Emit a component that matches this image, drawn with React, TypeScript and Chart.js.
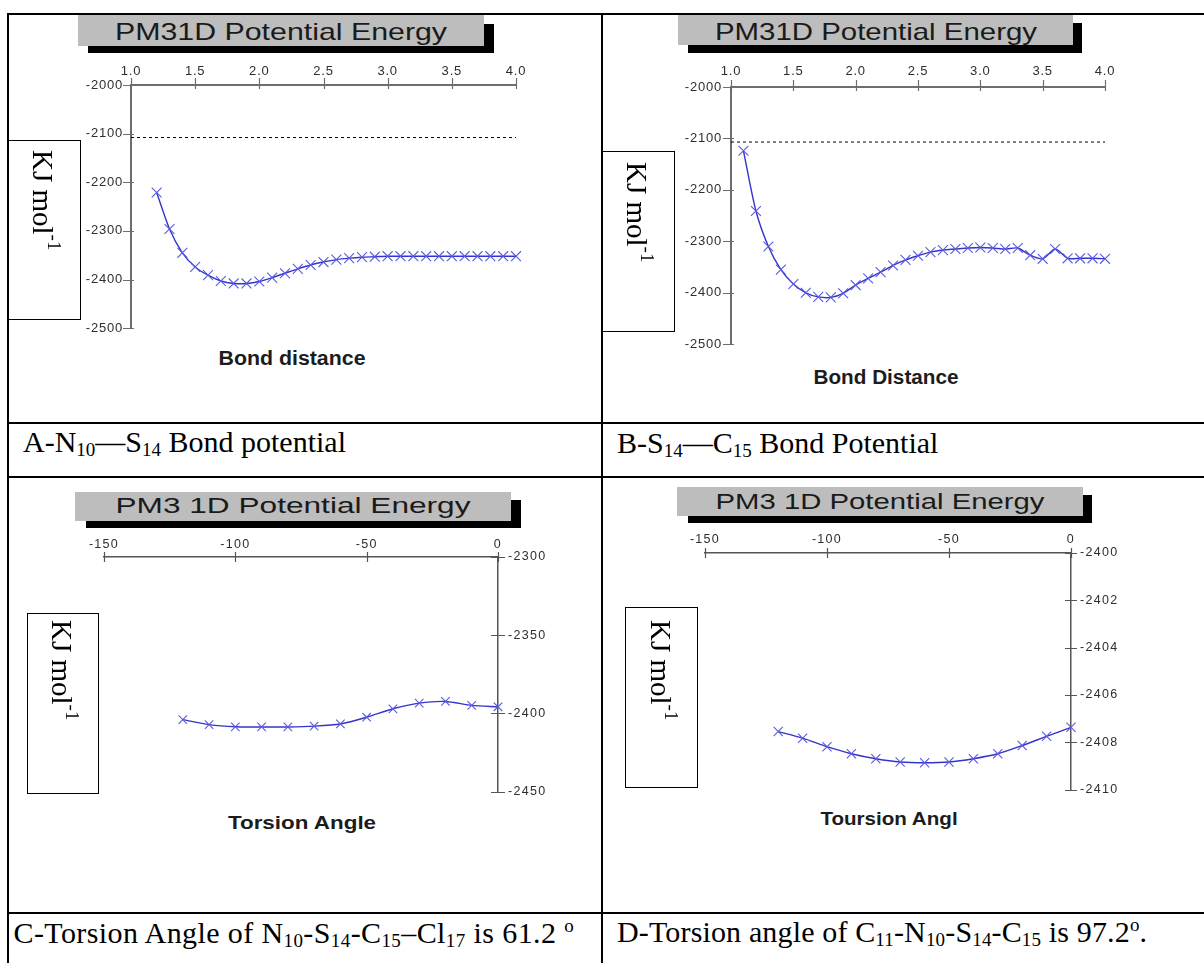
import React, { useEffect, useRef } from 'react';
import { Chart, registerables } from 'chart.js';

Chart.register(...registerables);

const SANS = '"Liberation Sans", Arial, Helvetica, sans-serif';
const SERIF = '"Liberation Serif", "Times New Roman", Times, serif';

// ---------- Panel A : N10—S14 bond ----------
const A_X = [1.2, 1.3, 1.4, 1.5, 1.6, 1.7, 1.8, 1.9, 2.0, 2.1, 2.2, 2.3, 2.4, 2.5, 2.6, 2.7, 2.8, 2.9, 3.0, 3.1, 3.2, 3.3, 3.4, 3.5, 3.6, 3.7, 3.8, 3.9, 4.0];
const A_Y = [-2221, -2296, -2345, -2374, -2391, -2403, -2408, -2408, -2404, -2396, -2387, -2378, -2370, -2364, -2359, -2356, -2354, -2353, -2352, -2352, -2352, -2352, -2352, -2352, -2352, -2352, -2352, -2352, -2352];
const A_REF_Y = -2108;

// ---------- Panel B : S14—C15 bond ----------
const B_X = [1.1, 1.2, 1.3, 1.4, 1.5, 1.6, 1.7, 1.8, 1.9, 2.0, 2.1, 2.2, 2.3, 2.4, 2.5, 2.6, 2.7, 2.8, 2.9, 3.0, 3.1, 3.2, 3.3, 3.4, 3.5, 3.6, 3.7, 3.8, 3.9, 4.0];
const B_Y = [-2124, -2241, -2310, -2355, -2383, -2400, -2408, -2409, -2401, -2385, -2372, -2360, -2347, -2336, -2328, -2321, -2317, -2315, -2313, -2312, -2313, -2315, -2313, -2327, -2334, -2315, -2333, -2333, -2333, -2334];
const B_REF_Y = -2107;

const BOND_X_TICKS = [1.0, 1.5, 2.0, 2.5, 3.0, 3.5, 4.0];
const BOND_X_LABELS = ['1.0', '1.5', '2.0', '2.5', '3.0', '3.5', '4.0'];
const BOND_Y_TICKS = [-2500, -2400, -2300, -2200, -2100, -2000];
const BOND_Y_LABELS = ['-2500', '-2400', '-2300', '-2200', '-2100', '-2000'];

// ---------- Panel C : torsion N10-S14-C15-Cl17 ----------
const C_X = [-120, -110, -100, -90, -80, -70, -60, -50, -40, -30, -20, -10, 0];
const C_Y = [-2404, -2407.2, -2408.6, -2408.7, -2408.7, -2408.2, -2406.8, -2402.5, -2397.1, -2393.5, -2392.4, -2394.9, -2395.8];
const C_Y_TICKS = [-2450, -2400, -2350, -2300];
const C_Y_LABELS = ['-2450', '-2400', '-2350', '-2300'];

// ---------- Panel D : torsion C11-N10-S14-C15 ----------
const D_X = [-120, -110, -100, -90, -80, -70, -60, -50, -40, -30, -20, -10, 0];
const D_Y = [-2407.55, -2407.83, -2408.19, -2408.49, -2408.7, -2408.84, -2408.87, -2408.84, -2408.7, -2408.49, -2408.14, -2407.75, -2407.37];
const D_Y_TICKS = [-2410, -2408, -2406, -2404, -2402, -2400];
const D_Y_LABELS = ['-2410', '-2408', '-2406', '-2404', '-2402', '-2400'];

const TORSION_X_TICKS = [-150, -100, -50, 0];
const TORSION_X_LABELS = ['-150', '-100', '-50', '0'];

const LINE_COLOR = '#3434c8';
const MARK_COLOR = '#5a5ae2';

const WY = 64;
const HX = 34;

const axisDeco = {
  id: 'axisDeco',
  beforeDraw(chart: any, _a: any, opts: any) {
    (chart.ctx as any).letterSpacing = opts.letterSpacing || '0px';
  },
  afterDraw(chart: any, _a: any, opts: any) {
    const ctx = chart.ctx;
    (ctx as any).letterSpacing = '0px';
    const area = chart.chartArea;
    const xs = chart.scales.x;
    const ys = chart.scales.y;
    ctx.save();
    ctx.strokeStyle = opts.color;
    ctx.lineWidth = opts.width;
    ctx.beginPath();
    xs.ticks.forEach((t: any) => {
      const p = Math.round(xs.getPixelForValue(t.value)) + 0.5;
      ctx.moveTo(p, area.top - opts.xOut);
      ctx.lineTo(p, area.top + opts.xIn);
    });
    const x0 = opts.yRight ? area.right : area.left;
    const dir = opts.yRight ? 1 : -1;
    ys.ticks.forEach((t: any) => {
      const p = Math.round(ys.getPixelForValue(t.value)) + 0.5;
      ctx.moveTo(x0 + dir * opts.yOut, p);
      ctx.lineTo(x0 - dir * opts.yIn, p);
    });
    ctx.stroke();
    ctx.restore();
  },
};

type Spec = {
  l: number; t: number; r: number; b: number;
  yRight: boolean;
  xs: number[]; ys: number[]; refY: number | null;
  xMin: number; xMax: number; yMin: number; yMax: number;
  xTicks: number[]; xLabels: string[]; yTicks: number[]; yLabels: string[];
  pointRadius: number;
  axisColor: string; axisWidth: number;
  fontSize: number; letterSpacing: string;
  xPad: number; yPad: number;
  xOut: number; xIn: number; yOut: number; yIn: number;
};

function PlotChart({ s }: { s: Spec }) {
  const ref = useRef<HTMLCanvasElement>(null);
  const PADT = 4, PADB = 14;
  const PADL = s.yRight ? 24 : 4;
  const PADR = s.yRight ? 4 : 22;
  const cw = s.r - s.l + WY + PADL + PADR;
  const ch = s.b - s.t + HX + PADT + PADB;
  const cl = s.yRight ? s.l - PADL : s.l - WY - PADL;
  const ct = s.t - HX - PADT;

  useEffect(() => {
    const datasets: any[] = [];
    if (s.refY !== null) {
      datasets.push({
        data: [{ x: s.xMin, y: s.refY }, { x: s.xMax, y: s.refY }],
        borderColor: '#000', borderWidth: 1, borderDash: [3, 3], pointRadius: 0, clip: false, fill: false,
      });
    }
    datasets.push({
      data: s.xs.map((x, i) => ({ x, y: s.ys[i] })),
      borderColor: LINE_COLOR, borderWidth: 1.4, tension: 0.25,
      pointStyle: 'crossRot', pointRadius: s.pointRadius, pointBorderWidth: 1.1,
      pointBorderColor: MARK_COLOR, pointBackgroundColor: MARK_COLOR,
      clip: false, fill: false,
    });
    const tickFont = { family: SANS, size: s.fontSize };
    const chart = new Chart(ref.current as HTMLCanvasElement, {
      type: 'line',
      data: { datasets },
      options: {
        animation: false,
        responsive: false,
        maintainAspectRatio: false,
        events: [],
        layout: { padding: { left: PADL, right: PADR, top: PADT, bottom: PADB } },
        plugins: {
          legend: { display: false },
          tooltip: { enabled: false },
          axisDeco: {
            color: s.axisColor, width: 1.2, yRight: s.yRight,
            xOut: s.xOut, xIn: s.xIn, yOut: s.yOut, yIn: s.yIn,
            letterSpacing: s.letterSpacing,
          },
        } as any,
        scales: {
          x: {
            type: 'linear', position: 'top', min: s.xMin, max: s.xMax,
            grid: { display: false, drawTicks: false },
            border: { display: true, color: s.axisColor, width: s.axisWidth },
            ticks: {
              padding: s.xPad, font: tickFont, color: '#2e2e2e', maxRotation: 0, autoSkip: false,
              callback: (_v: any, i: number) => s.xLabels[i],
            },
            afterBuildTicks: (sc: any) => { sc.ticks = s.xTicks.map((v) => ({ value: v })); },
            afterFit: (sc: any) => { sc.height = HX; },
          },
          y: {
            type: 'linear', position: s.yRight ? 'right' : 'left', min: s.yMin, max: s.yMax,
            grid: { display: false, drawTicks: false },
            border: { display: true, color: s.axisColor, width: s.axisWidth },
            ticks: {
              padding: s.yPad, font: tickFont, color: '#2e2e2e', autoSkip: false,
              callback: (_v: any, i: number) => s.yLabels[i],
            },
            afterBuildTicks: (sc: any) => { sc.ticks = s.yTicks.map((v) => ({ value: v })); },
            afterFit: (sc: any) => { sc.width = WY; },
          },
        } as any,
      },
      plugins: [axisDeco as any],
    });
    return () => chart.destroy();
  }, []);

  return (
    <canvas
      ref={ref}
      width={cw}
      height={ch}
      style={{ position: 'absolute', left: cl, top: ct, width: cw, height: ch }}
    />
  );
}

let mctx: CanvasRenderingContext2D | null = null;
function measure(text: string, font: string) {
  if (!mctx) mctx = document.createElement('canvas').getContext('2d');
  (mctx as CanvasRenderingContext2D).font = font;
  return (mctx as CanvasRenderingContext2D).measureText(text).width;
}

function StretchText({ text, cx, baseline, size, width, bold, color }: any) {
  const font = `${bold ? 'bold ' : ''}${size}px ${SANS}`;
  const k = width / measure(text, font);
  return (
    <div
      style={{
        position: 'absolute', left: cx, top: baseline - 0.8465 * size,
        font, lineHeight: `${size}px`, whiteSpace: 'nowrap', color: color || '#1c1c1c',
        transform: `translateX(-50%) scaleX(${k})`,
      }}
    >
      {text}
    </div>
  );
}

function Rect({ l, t, r, b, bg, border }: any) {
  return (
    <div
      style={{
        position: 'absolute', left: l, top: t, width: r - l, height: b - t,
        background: bg || 'transparent', border: border || 'none', boxSizing: 'border-box',
      }}
    />
  );
}

function TitleBox({ g, sh, text, cx, baseline, size, width }: any) {
  return (
    <>
      <Rect {...sh} bg="#000" />
      <Rect {...g} bg="#bdbdbd" />
      <StretchText text={text} cx={cx} baseline={baseline} size={size} width={width} color="#1a1a1a" />
    </>
  );
}

function KJBox({ box, cx, top }: any) {
  return (
    <>
      <Rect {...box} border="1.5px solid #000" />
      <div
        style={{
          position: 'absolute', left: cx - 14.5, top, writingMode: 'vertical-rl',
          fontFamily: SERIF, fontSize: 29, lineHeight: '29px', whiteSpace: 'nowrap', color: '#000',
        }}
      >
        KJ mol<span style={{ fontSize: 19, verticalAlign: 'super', lineHeight: 0 }}>-1</span>
      </div>
    </>
  );
}

const Sub = ({ children }: any) => (
  <span style={{ fontSize: 19, verticalAlign: '-4px', lineHeight: 0 }}>{children}</span>
);
const Sup = ({ children }: any) => (
  <span style={{ fontSize: 19, verticalAlign: '11px', lineHeight: 0 }}>{children}</span>
);

function Caption({ left, baseline, spacing, children }: any) {
  return (
    <div
      style={{
        position: 'absolute', left, top: baseline - 0.8375 * 30, fontFamily: SERIF,
        fontSize: 30, lineHeight: '30px', whiteSpace: 'nowrap', color: '#000',
        letterSpacing: spacing || 'normal',
      }}
    >
      {children}
    </div>
  );
}

const specA: Spec = {
  l: 131, t: 85, r: 516, b: 330, yRight: false,
  xs: A_X, ys: A_Y, refY: A_REF_Y,
  xMin: 1, xMax: 4, yMin: -2500, yMax: -2000,
  xTicks: BOND_X_TICKS, xLabels: BOND_X_LABELS, yTicks: BOND_Y_TICKS, yLabels: BOND_Y_LABELS,
  pointRadius: 7, axisColor: '#6e6e6e', axisWidth: 2,
  fontSize: 13, letterSpacing: '0.8px', xPad: 6, yPad: 8,
  xOut: 7, xIn: 4, yOut: 8, yIn: 3,
};
const specB: Spec = {
  l: 731, t: 87, r: 1105, b: 347, yRight: false,
  xs: B_X, ys: B_Y, refY: B_REF_Y,
  xMin: 1, xMax: 4, yMin: -2500, yMax: -2000,
  xTicks: BOND_X_TICKS, xLabels: BOND_X_LABELS, yTicks: BOND_Y_TICKS, yLabels: BOND_Y_LABELS,
  pointRadius: 7, axisColor: '#6e6e6e', axisWidth: 2,
  fontSize: 13, letterSpacing: '0.8px', xPad: 7.5, yPad: 9,
  xOut: 7, xIn: 4, yOut: 8, yIn: 3,
};
const specC: Spec = {
  l: 104, t: 557, r: 498, b: 795, yRight: true,
  xs: C_X, ys: C_Y, refY: null,
  xMin: -150, xMax: 0, yMin: -2450, yMax: -2300,
  xTicks: TORSION_X_TICKS, xLabels: TORSION_X_LABELS, yTicks: C_Y_TICKS, yLabels: C_Y_LABELS,
  pointRadius: 6, axisColor: '#555', axisWidth: 1.5,
  fontSize: 12.5, letterSpacing: '1.3px', xPad: 5, yPad: 10,
  xOut: 5, xIn: 5, yOut: 7, yIn: 7,
};
const specD: Spec = {
  l: 705, t: 553, r: 1071, b: 792, yRight: true,
  xs: D_X, ys: D_Y, refY: null,
  xMin: -150, xMax: 0, yMin: -2410, yMax: -2400,
  xTicks: TORSION_X_TICKS, xLabels: TORSION_X_LABELS, yTicks: D_Y_TICKS, yLabels: D_Y_LABELS,
  pointRadius: 6.5, axisColor: '#555', axisWidth: 1.5,
  fontSize: 12.5, letterSpacing: '1.3px', xPad: 6, yPad: 9,
  xOut: 5, xIn: 5, yOut: 6, yIn: 6,
};

export default function App() {
  return (
    <div
      style={{
        position: 'absolute', left: 0, top: 0, width: 1204, height: 963,
        overflow: 'hidden', background: '#fff',
      }}
    >
      {/* table rules */}
      <Rect l={7} t={13} r={1204} b={15} bg="#000" />
      <Rect l={7} t={13} r={9} b={963} bg="#000" />
      <Rect l={601} t={13} r={603} b={963} bg="#000" />
      <Rect l={7} t={422} r={1204} b={424} bg="#000" />
      <Rect l={7} t={476} r={1204} b={478} bg="#000" />
      <Rect l={7} t={912} r={1204} b={914} bg="#000" />

      {/* Panel A */}
      <TitleBox g={{ l: 78, t: 15, r: 484, b: 46 }} sh={{ l: 88, t: 24, r: 494, b: 53 }}
        text="PM31D Potential Energy" cx={281} baseline={40.7} size={24} width={332} />
      <PlotChart s={specA} />
      <StretchText text="Bond distance" cx={292} baseline={365} size={20} width={147} bold />
      <KJBox box={{ l: 8, t: 140, r: 81, b: 320 }} cx={42.5} top={150} />

      {/* Panel B */}
      <TitleBox g={{ l: 678, t: 15, r: 1073, b: 45 }} sh={{ l: 688, t: 23, r: 1082, b: 53 }}
        text="PM31D Potential Energy" cx={876} baseline={40.7} size={24} width={322} />
      <PlotChart s={specB} />
      <StretchText text="Bond Distance" cx={886} baseline={384.3} size={20} width={145} bold />
      <KJBox box={{ l: 602, t: 151, r: 675, b: 332 }} cx={636} top={162} />

      {/* Panel C */}
      <TitleBox g={{ l: 75, t: 492, r: 511, b: 521 }} sh={{ l: 86, t: 500, r: 521, b: 528 }}
        text="PM3 1D Potential Energy" cx={293} baseline={513.3} size={22} width={355} />
      <PlotChart s={specC} />
      <StretchText text="Torsion Angle" cx={302} baseline={829.3} size={18} width={149} bold />
      <KJBox box={{ l: 27, t: 613, r: 99, b: 794 }} cx={61} top={620} />

      {/* Panel D */}
      <TitleBox g={{ l: 677, t: 487, r: 1083, b: 516 }} sh={{ l: 688, t: 495, r: 1092, b: 523 }}
        text="PM3 1D Potential Energy" cx={880} baseline={510} size={22} width={329} />
      <PlotChart s={specD} />
      <StretchText text="Toursion Angl" cx={889} baseline={825} size={18} width={138} bold />
      <KJBox box={{ l: 625, t: 607, r: 698, b: 788 }} cx={660} top={620} />

      {/* Captions */}
      <Caption left={23} baseline={452}>
        A-N<Sub>10</Sub>—S<Sub>14</Sub> Bond potential
      </Caption>
      <Caption left={617} baseline={452.7}>
        B-S<Sub>14</Sub>—C<Sub>15</Sub> Bond Potential
      </Caption>
      <Caption left={13.5} baseline={942.7} spacing="0.4px">
        C-Torsion Angle of N<Sub>10</Sub>-S<Sub>14</Sub>-C<Sub>15</Sub>–Cl<Sub>17</Sub> is 61.2 <Sup>o</Sup>
      </Caption>
      <Caption left={617} baseline={941.7} spacing="0.15px">
        D-Torsion angle of C<Sub>11</Sub>-N<Sub>10</Sub>-S<Sub>14</Sub>-C<Sub>15</Sub> is 97.2<Sup>o</Sup>.
      </Caption>
    </div>
  );
}
